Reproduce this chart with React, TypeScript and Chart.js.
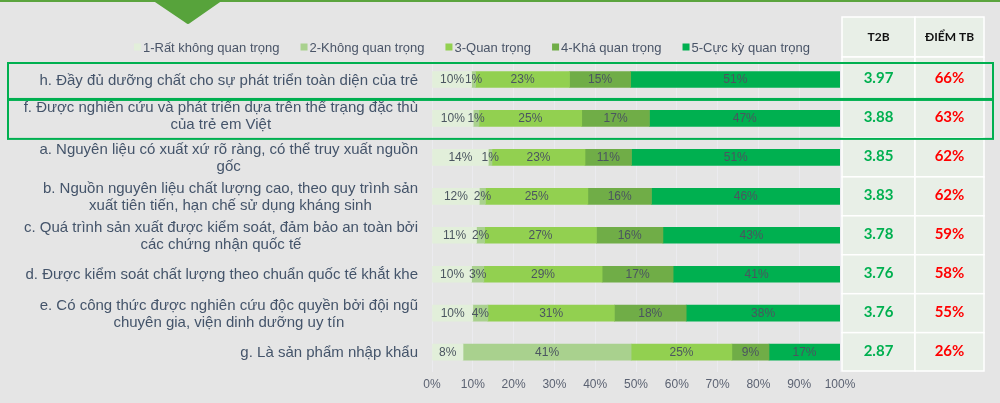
import { useEffect, useRef } from 'react';
import { Chart, registerables } from 'chart.js';

Chart.register(...registerables);

// ---------- DATA ----------
const categories: string[][] = [
  ['h. Đầy đủ dưỡng chất cho sự phát triển toàn diện của trẻ'],
  ['f. Được nghiên cứu và phát triển dựa trên thể trạng đặc thù', 'của trẻ em Việt'],
  ['a. Nguyên liệu có xuất xứ rõ ràng, có thể truy xuất nguồn', 'gốc'],
  ['b. Nguồn nguyên liệu chất lượng cao, theo quy trình sản', 'xuất tiên tiến, hạn chế sử dụng kháng sinh'],
  ['c. Quá trình sản xuất được kiểm soát, đảm bảo an toàn bởi', 'các chứng nhận quốc tế'],
  ['d. Được kiểm soát chất lượng theo chuẩn quốc tế khắt khe'],
  ['e. Có công thức được nghiên cứu độc quyền bởi đội ngũ', 'chuyên gia, viện dinh dưỡng uy tín'],
  ['g. Là sản phẩm nhập khẩu'],
];

const seriesNames = [
  '1-Rất không quan trọng',
  '2-Không quan trọng',
  '3-Quan trọng',
  '4-Khá quan trọng',
  '5-Cực kỳ quan trọng',
];

const ratKhongQuanTrong = [9.7, 10.1, 13.8, 11.6, 10.9, 9.7, 10.0, 7.6];
const khongQuanTrong = [1.0, 1.4, 0.9, 1.5, 2.0, 3.0, 3.7, 41.2];
const quanTrong = [23.0, 25.2, 22.8, 25.1, 27.4, 29.0, 31.0, 24.7];
const khaQuanTrong = [15.0, 16.6, 11.4, 15.6, 16.3, 17.4, 17.6, 9.1];
const cucKyQuanTrong = [51.3, 46.7, 51.1, 46.2, 43.4, 40.9, 37.7, 17.4];

const t2bScores = [3.97, 3.88, 3.85, 3.83, 3.78, 3.76, 3.76, 2.87];
const diemTB = [66, 63, 62, 62, 59, 58, 55, 26];

const tableHeaders = ['T2B', 'ĐIỂM TB'];
const xTickValues = [0, 10, 20, 30, 40, 50, 60, 70, 80, 90, 100];
const highlightedRows = [0, 1];

// ---------- STYLE ----------
const seriesColors = ['#e2efda', '#a9d18e', '#92d050', '#70ad47', '#00b050'];
const BG = '#e5e5e5';
const SANS = '"Liberation Sans", Arial, sans-serif';
const LATO = 'Lato, "Open Sans", sans-serif';

const decorPlugin = {
  id: 'decor',
  beforeDraw(chart: any) {
    const ctx = chart.ctx;
    ctx.save();
    ctx.fillStyle = BG;
    ctx.fillRect(0, 0, chart.width, chart.height);
    ctx.fillStyle = '#5ba43e';
    ctx.fillRect(0, 0, chart.width, 2);
    ctx.beginPath();
    ctx.moveTo(152, 0);
    ctx.lineTo(223, 0);
    ctx.lineTo(190, 23);
    ctx.quadraticCurveTo(188, 25, 186, 23);
    ctx.closePath();
    ctx.fillStyle = '#57a33b';
    ctx.fill();
    ctx.restore();
  },
};

const valueLabelPlugin = {
  id: 'valueLabels',
  afterDatasetsDraw(chart: any) {
    const ctx = chart.ctx;
    ctx.save();
    ctx.font = `12px ${SANS}`;
    ctx.fillStyle = '#4b5560';
    ctx.textAlign = 'center';
    ctx.textBaseline = 'middle';
    chart.data.datasets.forEach((ds: any, d: number) => {
      const meta = chart.getDatasetMeta(d);
      meta.data.forEach((el: any, i: number) => {
        const v = ds.data[i];
        const cx = (el.x + el.base) / 2;
        ctx.fillText(Math.round(v) + '%', cx, el.y + 0.5);
      });
    });
    ctx.restore();
  },
};

const overlayPlugin = {
  id: 'overlay',
  afterDraw(chart: any) {
    const ctx = chart.ctx;
    const y = chart.scales.y;
    const n = categories.length;
    const p = (i: number) => y.getPixelForTick(i);
    const step = p(1) - p(0);
    ctx.save();

    // Category labels (right aligned block, lines centered)
    ctx.font = `15px ${SANS}`;
    ctx.fillStyle = '#44546a';
    ctx.textBaseline = 'middle';
    ctx.textAlign = 'center';
    const lineH = 16.5;
    const rightEdge = 418;
    categories.forEach((lines, i) => {
      const maxW = Math.max(...lines.map((l) => ctx.measureText(l).width));
      const cx = rightEdge - maxW / 2;
      const cy = p(i) + (i === 1 ? -3 : 0);
      const y0 = cy - ((lines.length - 1) * lineH) / 2;
      lines.forEach((l, k) => ctx.fillText(l, cx, y0 + k * lineH + 1));
    });

    // Legend
    ctx.font = `13px ${SANS}`;
    const box = 7;
    const gapBoxText = 2;
    const gapItems = 21;
    const widths = seriesNames.map((s) => box + gapBoxText + ctx.measureText(s).width);
    const total = widths.reduce((a, b) => a + b, 0) + gapItems * (seriesNames.length - 1);
    let lx = 472 - total / 2;
    const ly = 47;
    ctx.textAlign = 'left';
    seriesNames.forEach((s, i) => {
      ctx.fillStyle = seriesColors[i];
      ctx.fillRect(lx, ly - 3.5, box, box);
      ctx.fillStyle = '#4a5568';
      ctx.fillText(s, lx + box + gapBoxText, ly + 1);
      lx += widths[i] + gapItems;
    });

    // Table
    const tx0 = 842, tx1 = 915, tx2 = 984;
    const hTop = 17, hBot = 57;
    const cellFill = '#e8efe7';
    const drawCell = (x0: number, y0: number, x1: number, y1: number) => {
      ctx.fillStyle = cellFill;
      ctx.fillRect(x0, y0, x1 - x0, y1 - y0);
      ctx.strokeStyle = '#ffffff';
      ctx.lineWidth = 1.5;
      ctx.strokeRect(x0, y0, x1 - x0, y1 - y0);
    };
    drawCell(tx0, hTop, tx1, hBot);
    drawCell(tx1, hTop, tx2, hBot);
    ctx.fillStyle = '#111111';
    ctx.font = `bold 12px ${LATO}`;
    ctx.textAlign = 'center';
    ctx.fillText(tableHeaders[0], (tx0 + tx1) / 2, (hTop + hBot) / 2);
    ctx.fillText(tableHeaders[1], (tx1 + tx2) / 2, (hTop + hBot) / 2);

    for (let i = 0; i < n; i++) {
      const top = i === 0 ? hBot : p(i) - step / 2;
      const bot = i === n - 1 ? 371 : p(i) + step / 2;
      drawCell(tx0, top, tx1, bot);
      drawCell(tx1, top, tx2, bot);
      const cy = p(i) - 1;
      ctx.font = `bold 15px ${LATO}`;
      ctx.fillStyle = '#00b050';
      ctx.fillText(t2bScores[i].toFixed(2), (tx0 + tx1) / 2, cy);
      ctx.fillStyle = '#ff0000';
      ctx.fillText(diemTB[i] + '%', (tx1 + tx2) / 2, cy);
    }

    // Highlight boxes
    ctx.strokeStyle = '#00b050';
    ctx.lineWidth = 2;
    highlightedRows.forEach((i) => {
      const top = i === 0 ? p(i) - step / 2 + 3 : p(i) - step / 2;
      const bot = p(i) + step / 2 + 1;
      ctx.strokeRect(8, top, 993 - 8, bot - top);
    });

    ctx.restore();
  },
};

export default function App() {
  const ref = useRef<HTMLCanvasElement>(null);

  useEffect(() => {
    const datasets = [ratKhongQuanTrong, khongQuanTrong, quanTrong, khaQuanTrong, cucKyQuanTrong].map(
      (data, i) => ({
        label: seriesNames[i],
        data,
        backgroundColor: seriesColors[i],
        borderWidth: 0,
        barThickness: 16,
      })
    );
    const chart = new Chart(ref.current as HTMLCanvasElement, {
      type: 'bar',
      data: {
        labels: categories.map((c) => c.join(' ')),
        datasets,
      },
      options: {
        responsive: false,
        animation: false,
        indexAxis: 'y',
        layout: { padding: { left: 432, right: 160, top: 60, bottom: 5 } },
        plugins: {
          legend: { display: false },
          tooltip: { enabled: false },
        },
        scales: {
          x: {
            stacked: true,
            min: 0,
            max: 100,
            afterBuildTicks: (scale: any) => {
              scale.ticks = xTickValues.map((v) => ({ value: v }));
            },
            grid: { color: '#ebebef', drawTicks: false, lineWidth: 1 },
            border: { display: false },
            ticks: {
              autoSkip: false,
              maxRotation: 0,
              padding: 6,
              color: '#5b6272',
              font: { family: SANS, size: 12 },
              callback: (v: any) => v + '%',
            },
          },
          y: {
            stacked: true,
            display: false,
          },
        },
      },
      plugins: [decorPlugin, valueLabelPlugin, overlayPlugin],
    } as any);
    return () => chart.destroy();
  }, []);

  return (
    <div style={{ position: 'absolute', left: 0, top: 0, width: 1000, height: 403, background: BG }}>
      <canvas ref={ref} width={1000} height={403} style={{ display: 'block', width: 1000, height: 403 }} />
    </div>
  );
}
